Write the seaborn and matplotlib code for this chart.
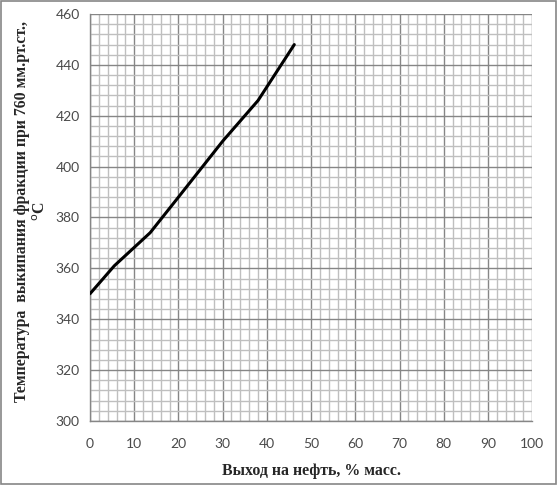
import matplotlib
matplotlib.use("Agg")
import matplotlib.pyplot as plt
from matplotlib.patches import Rectangle
from matplotlib.ticker import MultipleLocator
import seaborn as sns
import pandas as pd

# yield, % mass vs boiling temperature, C
yield_pct = [0, 5.5, 13.6, 20, 30, 38, 46.2]
temp_c = [350, 361, 374, 388, 410, 426, 448]

sns.set_style("white")
plt.rcParams["font.family"] = ["Lato", "DejaVu Sans"]

df = pd.DataFrame({"x": yield_pct, "y": temp_c})

fig = plt.figure(figsize=(5.59, 4.86), dpi=100)
ax = fig.add_axes([0.161, 0.134, 0.791, 0.837])

sns.lineplot(data=df, x="x", y="y", ax=ax, color="black", linewidth=2.2, zorder=5)

ax.set_xlim(0, 100)
ax.set_ylim(300, 460)
ax.xaxis.set_major_locator(MultipleLocator(10))
ax.xaxis.set_minor_locator(MultipleLocator(2))
ax.yaxis.set_major_locator(MultipleLocator(20))
ax.yaxis.set_minor_locator(MultipleLocator(4))
ax.grid(which="major", color="#868686", linewidth=1.0)
ax.grid(which="minor", color="#bfbfbf", linewidth=1.0)
ax.set_axisbelow(True)

for s in ["top", "right"]:
    ax.spines[s].set_visible(False)
for s in ["left", "bottom"]:
    ax.spines[s].set_color("#868686")
    ax.spines[s].set_linewidth(1.0)

ax.tick_params(which="major", length=4, color="#868686", labelsize=10, labelcolor="#4a4a4a")
ax.tick_params(which="minor", length=0)
ax.tick_params(axis="x", pad=8)

serif = {"family": ["Liberation Serif", "DejaVu Serif"], "weight": "bold", "size": 11.4}
ax.set_xlabel("Выход на нефть, % масс.", fontdict=serif, labelpad=10)
ax.set_ylabel("Температура  выкипания фракции при 760 мм.рт.ст.,\n$^{\\mathrm{o}}$С",
              fontdict=serif, linespacing=1.2)
ax.yaxis.set_label_coords(-0.092, 0.515)

fig.patches.append(Rectangle((0.002, 0.004), 0.993, 0.993, transform=fig.transFigure,
                             fill=False, edgecolor="#868686", linewidth=1.2))

fig.savefig("out.png", dpi=100)
